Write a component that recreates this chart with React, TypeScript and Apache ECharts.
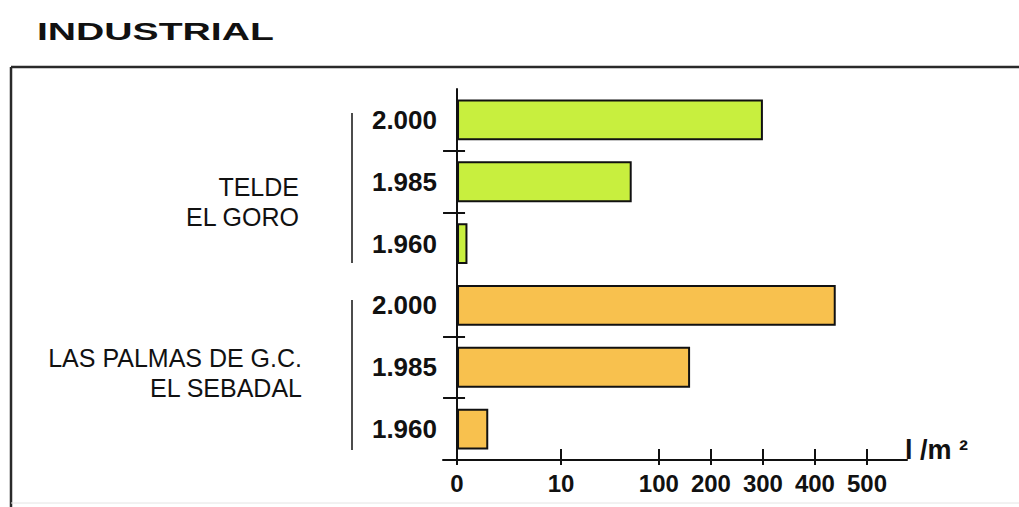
import React, { useEffect, useRef } from "react";
import * as echarts from "echarts";

// Consumption per square metre (l/m²) of the two industrial areas.
const title = "INDUSTRIAL";
const groupNames = ["TELDE\nEL GORO", "LAS PALMAS DE G.C.\nEL SEBADAL"];
const years = ["2.000", "1.985", "1.960"];
const teldeValues = [300, 75, 1];
const lasPalmasValues = [440, 160, 3];
const groupColors = ["#c8ef3e", "#f8c14e"];
const xTickValues = [0, 10, 100, 200, 300, 400, 500];
const unitLabel = "l /m ²";

// Broken value scale: 0–10 and 10–100 get a wide stretch each, then linear by hundreds.
const scaleKnots: [number, number][] = [
  [0, 0],
  [10, 2],
  [100, 3.88],
  [500, 7.88],
];
function toAxis(v: number): number {
  for (let i = 1; i < scaleKnots.length; i++) {
    const [v0, u0] = scaleKnots[i - 1];
    const [v1, u1] = scaleKnots[i];
    if (v <= v1 || i === scaleKnots.length - 1) {
      return u0 + ((v - v0) / (v1 - v0)) * (u1 - u0);
    }
  }
  return 0;
}

const categories = groupNames.flatMap(() => years);
const values = [...teldeValues, ...lasPalmasValues];
const groupOf = [...teldeValues.map(() => 0), ...lasPalmasValues.map(() => 1)];
// Separator ticks sit before each bar that is not the first in its group.
const tickBefore = categories.map((_, i) => i % years.length !== 0);

const xTickUnits = xTickValues.map(toAxis);
function xLabel(u: number): string {
  for (let i = 0; i < xTickUnits.length; i++) {
    if (Math.abs(xTickUnits[i] - u) < 1e-6) return String(xTickValues[i]);
  }
  return "";
}

const FONT = "'Liberation Sans', Arial, sans-serif";

export default function App() {
  const ref = useRef<HTMLDivElement>(null);

  useEffect(() => {
    if (!ref.current) return;
    const chart = echarts.init(ref.current, null, { renderer: "svg" });

    const xBase = {
      type: "value" as const,
      position: "bottom" as const,
      min: -0.27,
      max: 8.65,
      splitLine: { show: false },
    };

    chart.setOption({
      animation: false,
      backgroundColor: "#ffffff",
      textStyle: { fontFamily: FONT },
      grid: { left: 443, top: 89, width: 464, height: 371, containLabel: false },
      xAxis: [
        {
          ...xBase,
          axisLine: { show: true, lineStyle: { color: "#111", width: 2 } },
          axisTick: {
            show: true,
            inside: true,
            length: 11,
            customValues: xTickUnits,
            lineStyle: { color: "#111", width: 2 },
          },
          axisLabel: {
            show: true,
            customValues: xTickUnits,
            formatter: (v: number) => xLabel(v),
            margin: 11,
            color: "#111",
            fontSize: 24,
            fontWeight: "bold",
            fontFamily: FONT,
          },
          name: unitLabel,
          nameLocation: "end",
          nameGap: -2,
          nameTextStyle: {
            color: "#111",
            fontSize: 27,
            fontWeight: "bold",
            fontFamily: FONT,
            align: "left",
            verticalAlign: "bottom",
            lineHeight: 20,
          },
        },
        {
          ...xBase,
          axisLine: { show: false },
          axisTick: {
            show: true,
            inside: false,
            length: 5,
            customValues: xTickUnits,
            lineStyle: { color: "#111", width: 2 },
          },
          axisLabel: { show: false },
        },
      ],
      yAxis: [
        {
          type: "category",
          data: categories,
          inverse: true,
          position: "left",
          axisLine: {
            show: true,
            onZero: true,
            onZeroAxisIndex: 0,
            lineStyle: { color: "#111", width: 2 },
          },
          axisTick: {
            show: true,
            inside: false,
            length: 14,
            interval: (i: number) => tickBefore[i],
            lineStyle: { color: "#111", width: 2 },
          },
          axisLabel: {
            interval: 0,
            margin: 6,
            color: "#111",
            fontSize: 26,
            fontWeight: "bold",
            fontFamily: FONT,
          },
        },
        {
          type: "category",
          data: categories,
          inverse: true,
          position: "left",
          axisLine: { show: false, onZero: true, onZeroAxisIndex: 0 },
          axisTick: {
            show: true,
            inside: true,
            length: 8,
            interval: (i: number) => tickBefore[i],
            lineStyle: { color: "#111", width: 2 },
          },
          axisLabel: { show: false },
        },
      ],
      series: [
        {
          type: "bar",
          xAxisIndex: 0,
          yAxisIndex: 0,
          data: values.map(toAxis),
          barCategoryGap: "34%",
          itemStyle: {
            color: (p: any) => groupColors[groupOf[p.dataIndex]],
            borderColor: "#111",
            borderWidth: 2,
          },
        },
      ],
      graphic: [
        // frame: top and left rules
        {
          type: "line",
          shape: { x1: 11, y1: 67, x2: 1019, y2: 67 },
          style: { stroke: "#2a2a2a", lineWidth: 2.5 },
        },
        {
          type: "line",
          shape: { x1: 11, y1: 67, x2: 11, y2: 507 },
          style: { stroke: "#2a2a2a", lineWidth: 2.5 },
        },
        {
          type: "line",
          shape: { x1: 11, y1: 503, x2: 1019, y2: 503 },
          style: { stroke: "#e4e4e4", lineWidth: 1 },
        },
        {
          type: "text",
          x: 37,
          y: 32,
          scaleX: 1.63,
          style: {
            text: title,
            fontSize: 24,
            fontWeight: "bold",
            fontFamily: FONT,
            fill: "#111",
            verticalAlign: "middle",
          },
        },
        // group brackets and names
        {
          type: "line",
          shape: { x1: 352, y1: 113, x2: 352, y2: 263 },
          style: { stroke: "#111", lineWidth: 1.5 },
        },
        {
          type: "line",
          shape: { x1: 352, y1: 300, x2: 352, y2: 450 },
          style: { stroke: "#111", lineWidth: 1.5 },
        },
        {
          type: "text",
          x: 299,
          y: 202,
          style: {
            text: groupNames[0],
            fontSize: 25,
            fontFamily: FONT,
            fill: "#111",
            align: "right",
            verticalAlign: "middle",
            lineHeight: 30,
          },
        },
        {
          type: "text",
          x: 302,
          y: 373,
          style: {
            text: groupNames[1],
            fontSize: 25,
            fontFamily: FONT,
            fill: "#111",
            align: "right",
            verticalAlign: "middle",
            lineHeight: 30,
          },
        },
      ],
    });

    return () => chart.dispose();
  }, []);

  return (
    <div
      ref={ref}
      style={{ position: "fixed", left: 0, top: 0, width: 1019, height: 507 }}
    />
  );
}
